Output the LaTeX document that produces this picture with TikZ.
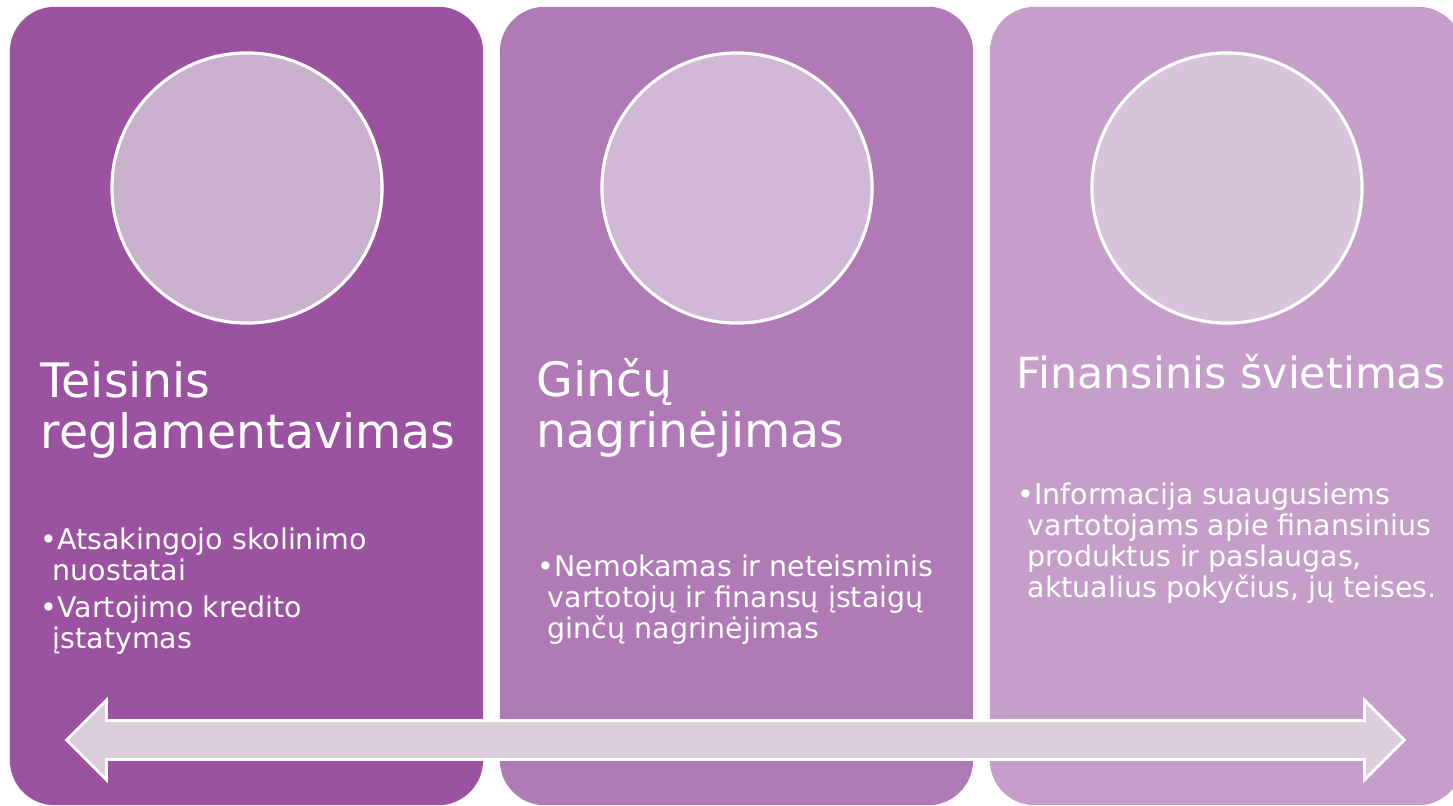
\documentclass[tikz,border=0pt]{standalone}
\usepackage{fontspec}
\setmainfont{DejaVu Sans}
\usetikzlibrary{shapes.arrows}
\definecolor{panelA}{HTML}{9B52A1}
\definecolor{panelB}{HTML}{B07AB6}
\definecolor{panelC}{HTML}{C59FCA}
\definecolor{circA}{HTML}{C9B1CD}
\definecolor{circB}{HTML}{D1B8D6}
\definecolor{circC}{HTML}{D9C3DC}
\definecolor{arrowfill}{HTML}{DACDDC}
\def\panellist{{10/one/panelA/circA}, {500/two/panelB/circB}, {990/three/panelC/circC}}
\tikzstyle{panel}=[rectangle,rounded corners=0.45cm,minimum width=4.73cm,minimum height=7.98cm,inner sep=0pt]
\tikzstyle{disc}=[circle,draw=white,line width=0.9pt,minimum size=2.7cm,inner sep=0pt]
\tikzstyle{heading}=[anchor=base west,align=left,inner sep=0pt,text=white,font=\fontsize{13.5}{14.5}\selectfont]
\tikzstyle{bullets}=[anchor=base west,align=left,inner sep=0pt,text=white,font=\fontsize{8.1}{8.8}\selectfont]
\tikzstyle{span}=[double arrow,double arrow head extend=0.205cm,double arrow tip angle=90,
  minimum height=13.37cm,inner xsep=0pt,inner ysep=0.18cm,fill=arrowfill,draw=white,line width=0.8pt]

\begin{document}
\begin{tikzpicture}[x=0.01cm,y=-0.01cm]
  \useasboundingbox (0,0) rectangle (1453,805);
  \clip (0,0) rectangle (1453,805);

  %  First we draw the panels and their discs
  \foreach \x/\name/\col/\circ in \panellist {
    \node[panel,fill=\col] (\name) at (\x+236.5,406) {};
    \node[disc,fill=\circ] (\name-disc) at (\x+237,188) {};
  }

  % The arrow across all three panels
  \node[span] (span) at (735.5,740) {};

  % Headings (placed by the baseline of their last line)
  \node[heading] (one-title) at (40,448) {Teisinis\\reglamentavimas};
  \node[heading] (two-title) at (536,447) {Ginčų\\nagrinėjimas};
  \node[heading,font=\fontsize{12.2}{14.5}\selectfont] (three-title) at (1016,388) {Finansinis švietimas};

  % Bullet texts
  \node[bullets] (one-text) at (40,648) {•Atsakingojo skolinimo\\\hspace*{0.12cm}nuostatai\\[1.6pt]
    •Vartojimo kredito\\\hspace*{0.12cm}įstatymas};
  \node[bullets] (two-text) at (537,638) {•Nemokamas ir neteisminis\\\hspace*{0.1cm}vartotojų ir finansų įstaigų\\\hspace*{0.1cm}ginčų nagrinėjimas};
  \node[bullets] (three-text) at (1017,597) {•Informacija suaugusiems\\\hspace*{0.1cm}vartotojams apie finansinius\\\hspace*{0.1cm}produktus ir paslaugas,\\\hspace*{0.1cm}aktualius pokyčius, jų teises.};
\end{tikzpicture}
\end{document}
